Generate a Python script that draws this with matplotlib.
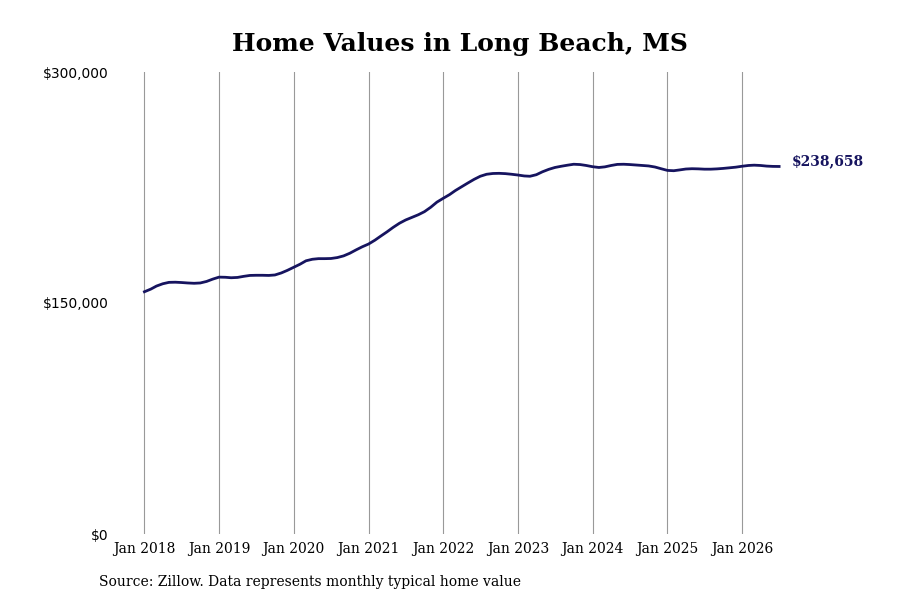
import numpy as np
import pandas as pd
import matplotlib
matplotlib.use('Agg')
import matplotlib.pyplot as plt
import matplotlib.dates as mdates
from matplotlib.ticker import FuncFormatter

# 数据：Long Beach, MS 每月房价
months = pd.date_range('2018-01-01', periods=103, freq='MS')
home_values = [
    157300, 159000, 161000, 162500, 163400, 163500, 163300, 163000, 162800, 163000, 164000, 165500,
    166800, 166700, 166400, 166600, 167300, 167900, 168000, 168000, 167900, 168200, 169500, 171200,
    173200, 175200, 177400, 178400, 178800, 178800, 178900, 179500, 180600, 182300, 184500, 186500,
    188300, 190800, 193400, 196200, 199100, 201800, 203900, 205600, 207300, 209300, 212200, 215500,
    218000, 220400, 223000, 225500, 227900, 230300, 232300, 233600, 234100, 234200, 234000, 233600,
    233100, 232500, 232300, 233300, 235200, 236800, 238000, 238800, 239500, 240100, 239900, 239300,
    238500, 238000, 238400, 239300, 240000, 240100, 239900, 239600, 239300, 239000, 238300, 237200,
    236100, 235900, 236400, 237000, 237200, 237100, 236900, 236900, 237100, 237400, 237800, 238200,
    238800, 239300, 239500, 239300, 238900, 238700, 238658,
]
tick_years = list(range(2018, 2027))
y_ticks = [0, 150000, 300000]
title = 'Home Values in Long Beach, MS'
source = 'Source: Zillow. Data represents monthly typical home value'

line_color = '#16145f'

fig = plt.figure(figsize=(9, 6), dpi=100)
ax = fig.add_axes([0.13, 0.11, 0.74, 0.77])

ax.plot(months, home_values, color=line_color, linewidth=2.0)

# x 轴
ticks = [pd.Timestamp('%d-01-01' % y) for y in tick_years]
ax.set_xticks(ticks)
ax.set_xticklabels(['Jan %d' % y for y in tick_years], fontfamily='DejaVu Serif', fontsize=10)
ax.set_xlim(pd.Timestamp('2017-08-20'), pd.Timestamp('2026-07-20'))
ax.xaxis.grid(True, color='#999999', linewidth=0.8)

# y 轴
ax.set_ylim(0, 300000)
ax.set_yticks(y_ticks)
ax.yaxis.set_major_formatter(FuncFormatter(lambda v, p: '${:,.0f}'.format(v)))
for lbl in ax.get_yticklabels():
    lbl.set_fontfamily('DejaVu Sans')
    lbl.set_fontsize(10)
ax.yaxis.grid(False)

ax.tick_params(length=0, pad=6)
for s in ax.spines.values():
    s.set_visible(False)

# 最后一个值标注
ax.annotate('${:,.0f}'.format(home_values[-1]), xy=(months[-1], home_values[-1]),
            xytext=(9, 3.5), textcoords='offset points', va='center', ha='left',
            fontfamily='DejaVu Serif', fontweight='bold', fontsize=10, color=line_color,
            annotation_clip=False)

fig.text(0.511, 0.927, title, ha='center', va='center', fontfamily='DejaVu Serif',
         fontweight='bold', fontsize=18)
fig.text(0.11, 0.03, source, ha='left', va='center', fontfamily='DejaVu Serif', fontsize=10)

fig.savefig('out.png', dpi=100)
